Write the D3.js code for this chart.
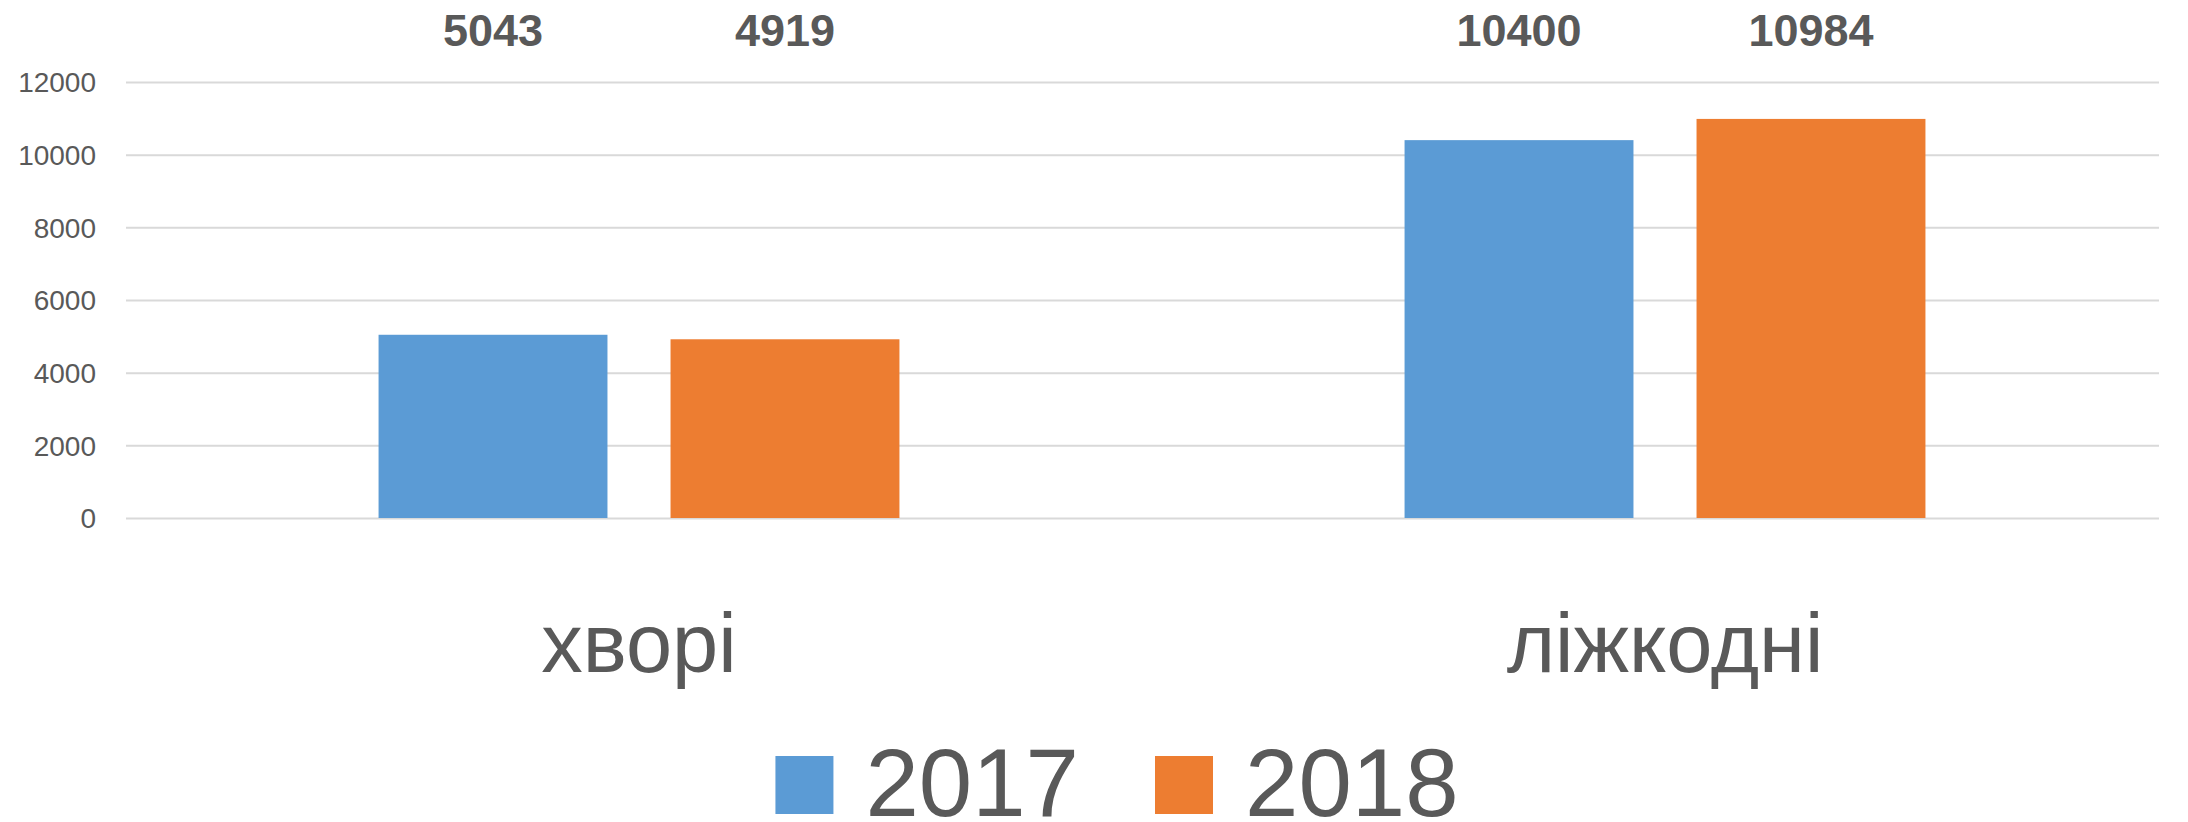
<!DOCTYPE html>
<html>
  <head>
    <meta charset="UTF-8" />
    <title>хворі / ліжкодні 2017–2018</title>
    <style>
      body,
      html {
        margin: 0;
        padding: 0;
        overflow: hidden;
        background: #fff;
      }
      svg text {
        font-family: "Liberation Sans", Arial, sans-serif;
        fill: #595959;
      }
      .grid line {
        stroke: #d9d9d9;
        stroke-width: 2px;
      }
    </style>
  </head>
  <body>
    <svg id="chart"></svg>
    <script src="https://cdnjs.cloudflare.com/ajax/libs/d3/7.8.5/d3.min.js"></script>
    <script>
      const categories = ["хворі", "ліжкодні"];
      const years = ["2017", "2018"];
      const values2017 = [5043, 10400];
      const values2018 = [4919, 10984];
      const yTicks = [0, 2000, 4000, 6000, 8000, 10000, 12000];
      const colors = ["#5b9bd5", "#ed7d31"];

      const width = 2188;
      const height = 822;
      const margin = { left: 126, right: 29, top: 82, bottom: 304 };

      const svg = d3.select("#chart").attr("width", width).attr("height", height);

      const y = d3
        .scaleLinear()
        .domain([0, 12000])
        .range([height - margin.bottom, margin.top]);

      // the category bands run a little past the right end of the gridlines
      const x0 = d3
        .scaleBand()
        .domain(categories)
        .range([margin.left, margin.left + 2052])
        .padding(0);

      const x1 = d3
        .scaleBand()
        .domain(years)
        .range([0, x0.bandwidth()])
        .paddingInner(0.216)
        .paddingOuter(0.865);

      // gridlines + y labels
      const yAxis = d3
        .axisLeft(y)
        .tickValues(yTicks)
        .tickSize(-(width - margin.left - margin.right))
        .tickPadding(30)
        .tickFormat(d3.format("d"));

      const gy = svg
        .append("g")
        .attr("class", "grid")
        .attr("transform", `translate(${margin.left},0)`)
        .call(yAxis);
      gy.select(".domain").remove();
      gy.selectAll("text").style("font-size", "28px").attr("dy", "0.35em");

      const rows = categories.map((c, i) => ({
        cat: c,
        vals: [values2017[i], values2018[i]],
      }));

      const groups = svg
        .selectAll(".cat")
        .data(rows)
        .enter()
        .append("g")
        .attr("class", "cat")
        .attr("transform", (d) => `translate(${x0(d.cat)},0)`);

      groups
        .selectAll("rect")
        .data((d) => d.vals.map((v, j) => ({ year: years[j], v: v, j: j })))
        .enter()
        .append("rect")
        .attr("x", (d) => x1(d.year))
        .attr("y", (d) => y(d.v))
        .attr("width", x1.bandwidth())
        .attr("height", (d) => y(0) - y(d.v))
        .style("fill", (d) => colors[d.j]);

      // value labels sit in a row at the top
      groups
        .selectAll(".val")
        .data((d) => d.vals.map((v, j) => ({ year: years[j], v: v })))
        .enter()
        .append("text")
        .attr("class", "val")
        .attr("x", (d) => x1(d.year) + x1.bandwidth() / 2)
        .attr("y", 46)
        .attr("text-anchor", "middle")
        .style("font-size", "45px")
        .style("font-weight", "bold")
        .text((d) => d.v);

      // category labels
      svg
        .selectAll(".catlabel")
        .data(categories)
        .enter()
        .append("text")
        .attr("class", "catlabel")
        .attr("x", (d) => x0(d) + x0.bandwidth() / 2)
        .attr("y", 672)
        .attr("text-anchor", "middle")
        .style("font-size", "83px")
        .text((d) => d);

      // legend
      const legend = svg.append("g");
      let lx = 0;
      years.forEach((yr, i) => {
        const item = legend.append("g").attr("transform", `translate(${lx},0)`);
        item
          .append("rect")
          .attr("x", 0)
          .attr("y", -60)
          .attr("width", 58)
          .attr("height", 58)
          .style("fill", colors[i]);
        const t = item
          .append("text")
          .attr("x", 90)
          .attr("y", 0)
          .style("font-size", "96px")
          .text(yr);
        lx += 90 + t.node().getComputedTextLength() + 76;
      });
      const lw = legend.node().getBBox().width;
      legend.attr("transform", `translate(${1117 - lw / 2},816)`);
    </script>
  </body>
</html>
